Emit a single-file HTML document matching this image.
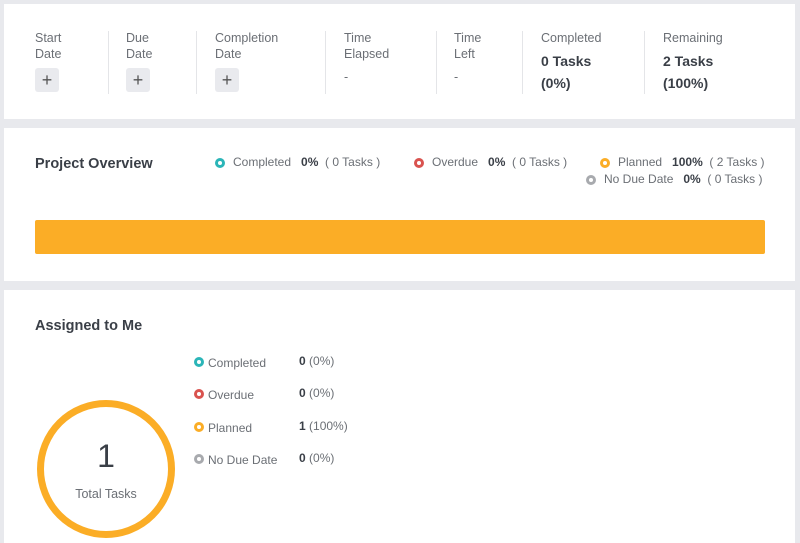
<!DOCTYPE html>
<html><head><style>
body{margin:0;width:800px;height:543px;background:#e8e9ed;font-family:"Liberation Sans",sans-serif;position:relative;overflow:hidden;color:#6b6f75}
.card{position:absolute;left:4px;width:791px;background:#fff}
.a{position:absolute;font-size:12.5px;line-height:16px}
.l{position:absolute;font-size:12px;line-height:16px}
.b{font-weight:bold;color:#3a3f47}
.plus{position:absolute;width:24px;height:24px;background:#e9eaee;border-radius:3px;text-align:center;line-height:24px;font-size:18px;color:#555}
.vl{position:absolute;top:27px;height:63px;width:1px;background:#e4e5e8}
.dot{position:absolute;width:4px;height:4px;border-radius:50%;border:3px solid}
.h{position:absolute;font-size:14.5px;font-weight:bold;color:#3a3f47}
</style></head><body>
<div class="card" style="top:4px;height:115px">
<div class="a" style="left:31px;top:26px">Start<br>Date</div><div class="plus" style="left:31px;top:64px">+</div>
<div class="vl" style="left:104px"></div>
<div class="a" style="left:122px;top:26px">Due<br>Date</div><div class="plus" style="left:122px;top:64px">+</div>
<div class="vl" style="left:192px"></div>
<div class="a" style="left:211px;top:26px">Completion<br>Date</div><div class="plus" style="left:211px;top:64px">+</div>
<div class="vl" style="left:321px"></div>
<div class="a" style="left:340px;top:26px">Time<br>Elapsed</div><div class="a" style="left:340px;top:65px">-</div>
<div class="vl" style="left:432px"></div>
<div class="a" style="left:450px;top:26px">Time<br>Left</div><div class="a" style="left:450px;top:65px">-</div>
<div class="vl" style="left:518px"></div>
<div class="a" style="left:537px;top:26px">Completed</div><div class="a b" style="left:537px;top:46px;font-size:14px;line-height:22px">0 Tasks<br>(0%)</div>
<div class="vl" style="left:640px"></div>
<div class="a" style="left:659px;top:26px">Remaining</div><div class="a b" style="left:659px;top:46px;font-size:14px;line-height:22px">2 Tasks<br>(100%)</div>
</div>
<div class="card" style="top:128px;height:153px">
<div class="h" style="left:31px;top:28px">Project Overview</div>
<div class="dot" style="left:211px;top:30px;border-color:#2bb5b8"></div><div class="l" style="left:229px;top:26px">Completed &nbsp;&nbsp;<span class="b">0%</span> &nbsp;( 0 Tasks )</div>
<div class="dot" style="left:410px;top:30px;border-color:#d9534f"></div><div class="l" style="left:428px;top:26px">Overdue &nbsp;&nbsp;<span class="b">0%</span> &nbsp;( 0 Tasks )</div>
<div class="dot" style="left:596px;top:30px;border-color:#fbad26"></div><div class="l" style="left:614px;top:26px">Planned &nbsp;&nbsp;<span class="b">100%</span> &nbsp;( 2 Tasks )</div>
<div class="dot" style="left:582px;top:47px;border-color:#a8aaae"></div><div class="l" style="left:600px;top:43px">No Due Date &nbsp;&nbsp;<span class="b">0%</span> &nbsp;( 0 Tasks )</div>
<div style="position:absolute;left:31px;top:92px;width:730px;height:34px;background:#fbad26;border-radius:2px"></div>
</div>
<div class="card" style="top:290px;height:253px">
<div class="h" style="left:31px;top:28px">Assigned to Me</div>
<div class="dot" style="left:190px;top:67px;border-color:#2bb5b8"></div><div class="l" style="left:204px;top:65px">Completed</div><div class="l" style="left:295px;top:63px"><span class="b">0</span> (0%)</div>
<div class="dot" style="left:190px;top:99px;border-color:#d9534f"></div><div class="l" style="left:204px;top:97px">Overdue</div><div class="l" style="left:295px;top:95px"><span class="b">0</span> (0%)</div>
<div class="dot" style="left:190px;top:132px;border-color:#fbad26"></div><div class="l" style="left:204px;top:130px">Planned</div><div class="l" style="left:295px;top:128px"><span class="b">1</span> (100%)</div>
<div class="dot" style="left:190px;top:164px;border-color:#a8aaae"></div><div class="l" style="left:204px;top:162px">No Due Date</div><div class="l" style="left:295px;top:160px"><span class="b">0</span> (0%)</div>
<div style="position:absolute;left:33px;top:110px;width:124px;height:124px;border:7px solid #fbad26;border-radius:50%"></div>
<div style="position:absolute;left:33px;top:148px;width:138px;text-align:center;font-size:32px;color:#3a3f47">1</div>
<div style="position:absolute;left:33px;top:197px;width:138px;text-align:center;font-size:12.5px">Total Tasks</div>
</div>
</body></html>
